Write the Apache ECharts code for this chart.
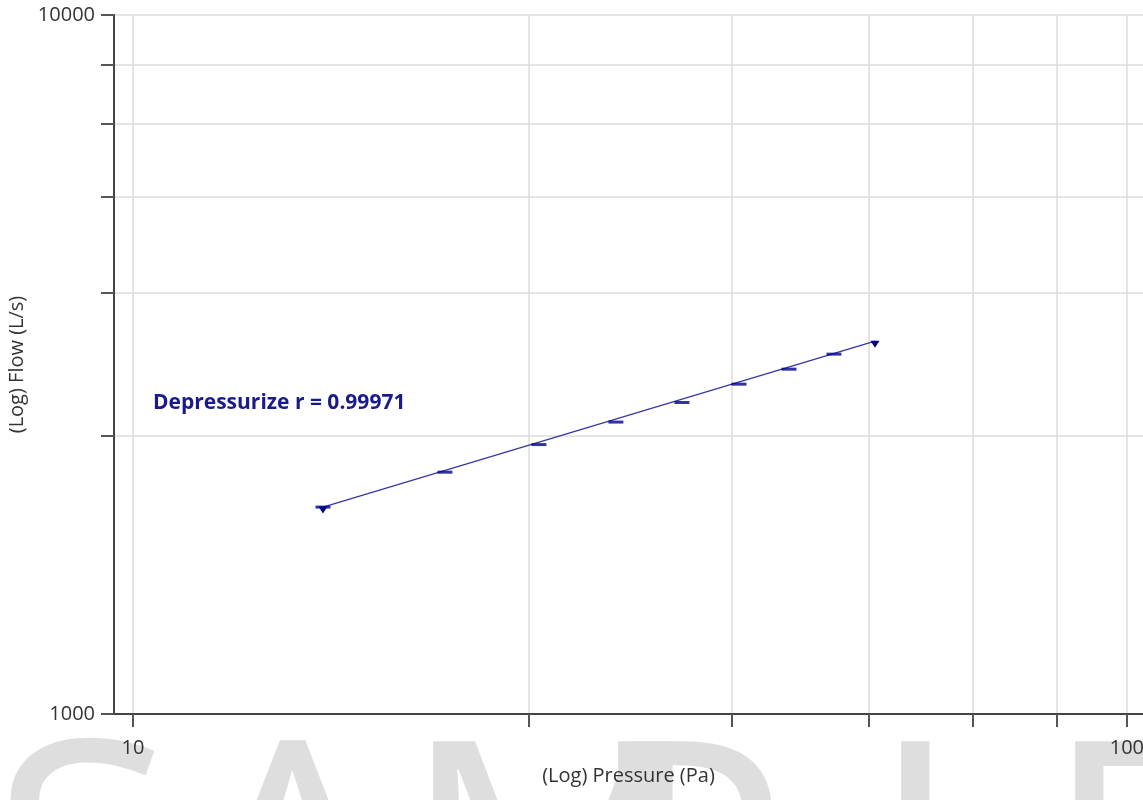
<!DOCTYPE html>
<html>
<head>
<meta charset="utf-8">
<script src="https://cdn.jsdelivr.net/npm/echarts@6/dist/echarts.min.js"></script>
<style>
  html, body { margin: 0; padding: 0; background: #ffffff; }
  #chart { width: 1143px; height: 800px; }
</style>
</head>
<body>
<div id="chart"></div>
<script>
// Measured points: pressure (Pa) vs flow (L/s)
const pressure = [15.53, 20.60, 25.61, 30.61, 35.67, 40.71, 45.71, 50.73];
const flow = [1977, 2218, 2429, 2616, 2790, 2964, 3114, 3272];

// Power-law fit line end points
const fitPressure = [15.53, 55.79];
const fitFlow = [1977, 3415];

// Tick / grid positions and labelled values
const xTicks = [10, 25, 40, 55, 70, 85, 100];
const yTicks = [1000, 2500, 4000, 5500, 7000, 8500, 10000];
const xLabels = [10, 100];
const yLabels = [1000, 10000];

const fitLabel = 'Depressurize r = 0.99971';
const watermark = ['S', 'A', 'M', 'P', 'L', 'E'];
const watermarkLeft = [-10, 185, 400, 585, 868, 1042];

const FONT = '"Open Sans", "Noto Sans", sans-serif';
const NAVY = '#00008b';

const chart = echarts.init(document.getElementById('chart'), null, { renderer: 'canvas' });

const dataPoints = pressure.map((p, i) => [p, flow[i]]);
const fitPoints = fitPressure.map((p, i) => [p, fitFlow[i]]);

const axisText = { color: '#333333', fontSize: 20, fontFamily: FONT, formatter: v => String(v) };

chart.setOption({
  animation: false,
  backgroundColor: '#ffffff',
  grid: { left: 114, right: 0, top: 15, bottom: 86, containLabel: false, outerBoundsMode: 'none' },
  xAxis: {
    type: 'log',
    logBase: 10,
    min: 9.57,
    max: 103.8,
    name: '(Log) Pressure (Pa)',
    nameLocation: 'middle',
    nameGap: 52,
    nameTextStyle: { color: '#333333', fontSize: 20, fontFamily: FONT },
    axisLine: { show: true, lineStyle: { color: '#444444', width: 2 } },
    axisTick: { show: true, inside: false, length: 13, customValues: xTicks,
                lineStyle: { color: '#555555', width: 2 } },
    axisLabel: Object.assign({ customValues: xLabels, margin: 24 }, axisText),
    splitLine: { show: true, lineStyle: { color: '#dcdcdc', width: 1.5 } },
    minorTick: { show: false },
    minorSplitLine: { show: false }
  },
  yAxis: {
    type: 'log',
    logBase: 10,
    min: 1000,
    max: 10000,
    name: '(Log) Flow (L/s)',
    nameLocation: 'middle',
    nameGap: 80,
    nameTextStyle: { color: '#333333', fontSize: 20, fontFamily: FONT },
    axisLine: { show: true, lineStyle: { color: '#444444', width: 2 } },
    axisTick: { show: true, inside: false, length: 13, customValues: yTicks,
                lineStyle: { color: '#555555', width: 2 } },
    axisLabel: Object.assign({ customValues: yLabels, margin: 19 }, axisText),
    splitLine: { show: true, lineStyle: { color: '#dcdcdc', width: 1.5 } },
    minorTick: { show: false },
    minorSplitLine: { show: false }
  },
  graphic: [
    ...watermark.map((ch, i) => ({
      type: 'text',
      z: -10,
      silent: true,
      left: watermarkLeft[i],
      top: 717,
      style: { text: ch, fill: '#dedede', font: '340px "Open Sans", sans-serif' }
    })),
    {
      type: 'text',
      left: 153,
      top: 393,
      z: 100,
      style: { text: fitLabel, fill: '#1a1a8c', font: 'bold 21px ' + FONT }
    }
  ],
  series: [
    {
      name: 'fit',
      type: 'line',
      data: fitPoints,
      symbol: 'triangle',
      symbolRotate: 180,
      symbolSize: [9, 7],
      symbolOffset: [0, 3],
      showAllSymbol: true,
      lineStyle: { color: '#3636a6', width: 1.3 },
      itemStyle: { color: NAVY },
      z: 3
    },
    {
      name: 'Depressurize',
      type: 'scatter',
      data: dataPoints,
      symbol: 'rect',
      symbolSize: [15, 3],
      itemStyle: { color: NAVY },
      z: 4
    }
  ]
});
</script>
</body>
</html>
